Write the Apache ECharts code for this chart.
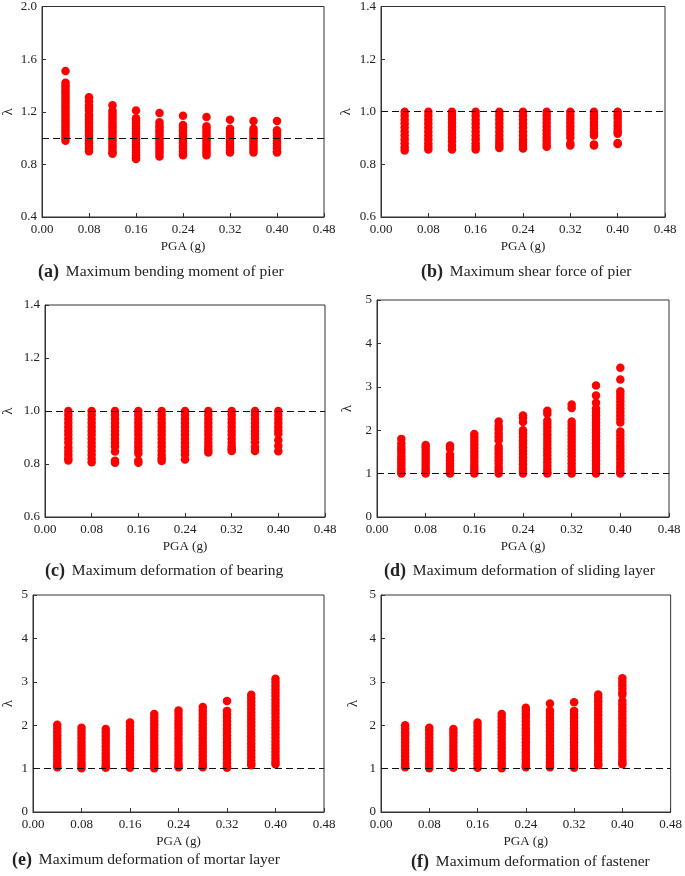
<!DOCTYPE html>
<html>
<head>
<meta charset="utf-8">
<script src="https://cdn.jsdelivr.net/npm/echarts@6/dist/echarts.min.js"></script>
<style>
html,body{margin:0;padding:0;background:#fff;}
#chart{width:685px;height:876px;}
</style>
</head>
<body>
<div id="chart"></div>
<script>
// PGA levels (g)
const pga = [0.04, 0.08, 0.12, 0.16, 0.20, 0.24, 0.28, 0.32, 0.36, 0.40];

// x tick labels
const xTickLabels = ['0.00', '0.08', '0.16', '0.24', '0.32', '0.40', '0.48'];

// (a) Maximum bending moment of pier: lambda values per PGA level
const lambdaBendingPier = [
  [1.51, 1.42, 1.40, 1.38, 1.36, 1.34, 1.32, 1.30, 1.28, 1.26, 1.24, 1.22, 1.20, 1.18, 1.16, 1.14, 1.12, 1.10, 1.08, 1.06, 1.04, 1.02, 1.00, 0.98],
  [1.31, 1.28, 1.25, 1.23, 1.21, 1.18, 1.16, 1.14, 1.12, 1.10, 1.08, 1.06, 1.04, 1.02, 1.00, 0.98, 0.96, 0.94, 0.92, 0.90],
  [1.25, 1.21, 1.19, 1.17, 1.15, 1.13, 1.11, 1.09, 1.07, 1.05, 1.03, 1.01, 0.99, 0.97, 0.95, 0.93, 0.91, 0.89, 0.88],
  [1.21, 1.15, 1.13, 1.11, 1.09, 1.07, 1.05, 1.03, 1.01, 0.99, 0.97, 0.95, 0.93, 0.91, 0.89, 0.87, 0.85, 0.84],
  [1.19, 1.12, 1.10, 1.08, 1.06, 1.04, 1.02, 1.00, 0.98, 0.96, 0.94, 0.92, 0.90, 0.88, 0.86],
  [1.17, 1.10, 1.08, 1.06, 1.04, 1.02, 1.00, 0.98, 0.96, 0.94, 0.92, 0.90, 0.88, 0.87],
  [1.16, 1.09, 1.07, 1.05, 1.03, 1.01, 0.99, 0.97, 0.95, 0.93, 0.91, 0.89, 0.87],
  [1.14, 1.07, 1.05, 1.03, 1.01, 0.99, 0.97, 0.95, 0.93, 0.91, 0.89],
  [1.13, 1.07, 1.05, 1.03, 1.01, 0.99, 0.97, 0.95, 0.93, 0.91, 0.89],
  [1.13, 1.06, 1.04, 1.02, 1.00, 0.98, 0.96, 0.94, 0.92, 0.90, 0.89]
];

// (b) Maximum shear force of pier
const lambdaShearPier = [
  [1.00, 0.985, 0.97, 0.955, 0.94, 0.925, 0.91, 0.895, 0.88, 0.865, 0.853],
  [1.00, 0.985, 0.97, 0.955, 0.94, 0.925, 0.91, 0.895, 0.88, 0.868, 0.857],
  [1.00, 0.986, 0.972, 0.958, 0.944, 0.93, 0.916, 0.902, 0.888, 0.872, 0.857],
  [1.00, 0.985, 0.97, 0.955, 0.94, 0.925, 0.91, 0.895, 0.88, 0.868, 0.857],
  [1.00, 0.985, 0.97, 0.955, 0.94, 0.925, 0.91, 0.895, 0.882, 0.872, 0.862],
  [1.00, 0.985, 0.97, 0.955, 0.94, 0.925, 0.91, 0.895, 0.882, 0.872, 0.86],
  [1.00, 0.986, 0.972, 0.958, 0.944, 0.93, 0.916, 0.902, 0.89, 0.877, 0.867],
  [1.00, 0.986, 0.972, 0.958, 0.944, 0.93, 0.916, 0.902, 0.879, 0.872],
  [1.00, 0.987, 0.974, 0.961, 0.948, 0.935, 0.922, 0.91, 0.876, 0.872],
  [1.00, 0.987, 0.974, 0.961, 0.948, 0.935, 0.925, 0.916, 0.881, 0.877]
];

// (c) Maximum deformation of bearing
const lambdaBearing = [
  [1.00, 0.985, 0.97, 0.955, 0.94, 0.925, 0.91, 0.895, 0.88, 0.862, 0.848, 0.835, 0.822, 0.813],
  [1.00, 0.985, 0.97, 0.955, 0.94, 0.925, 0.91, 0.895, 0.88, 0.865, 0.85, 0.835, 0.82, 0.807],
  [1.00, 0.985, 0.97, 0.955, 0.94, 0.925, 0.91, 0.895, 0.88, 0.866, 0.847, 0.812, 0.805],
  [1.00, 0.985, 0.97, 0.955, 0.94, 0.925, 0.91, 0.895, 0.88, 0.866, 0.852, 0.84, 0.812, 0.805],
  [1.00, 0.985, 0.97, 0.955, 0.94, 0.925, 0.91, 0.895, 0.88, 0.865, 0.85, 0.835, 0.822, 0.811],
  [1.00, 0.985, 0.97, 0.955, 0.94, 0.925, 0.91, 0.895, 0.88, 0.865, 0.85, 0.836, 0.817],
  [1.00, 0.985, 0.97, 0.955, 0.94, 0.925, 0.91, 0.895, 0.88, 0.866, 0.854, 0.843],
  [1.00, 0.985, 0.97, 0.955, 0.94, 0.925, 0.91, 0.895, 0.88, 0.866, 0.856, 0.849],
  [1.00, 0.985, 0.97, 0.955, 0.94, 0.925, 0.912, 0.898, 0.882, 0.864, 0.849],
  [1.00, 0.985, 0.97, 0.955, 0.94, 0.926, 0.914, 0.89, 0.868, 0.848]
];

// (d) Maximum deformation of sliding layer
const lambdaSliding = [
  [1.80, 1.70, 1.62, 1.55, 1.48, 1.40, 1.33, 1.26, 1.19, 1.12, 1.06, 1.00],
  [1.66, 1.60, 1.53, 1.46, 1.39, 1.32, 1.25, 1.18, 1.11, 1.05, 1.00],
  [1.65, 1.58, 1.44, 1.37, 1.30, 1.23, 1.16, 1.09, 1.03, 1.00],
  [1.91, 1.83, 1.75, 1.67, 1.59, 1.51, 1.43, 1.36, 1.28, 1.20, 1.13, 1.06, 1.00],
  [2.20, 2.10, 2.02, 1.93, 1.85, 1.77, 1.62, 1.55, 1.47, 1.39, 1.31, 1.23, 1.15, 1.08, 1.00],
  [2.34, 2.28, 2.19, 2.00, 1.93, 1.85, 1.77, 1.69, 1.61, 1.53, 1.45, 1.37, 1.29, 1.21, 1.13, 1.06, 1.00],
  [2.45, 2.38, 2.22, 2.14, 2.06, 1.98, 1.90, 1.82, 1.74, 1.66, 1.58, 1.50, 1.42, 1.34, 1.26, 1.18, 1.10, 1.03, 1.00],
  [2.59, 2.51, 2.20, 2.12, 2.04, 1.96, 1.88, 1.80, 1.72, 1.64, 1.56, 1.48, 1.40, 1.32, 1.24, 1.16, 1.08, 1.00],
  [3.03, 2.80, 2.63, 2.50, 2.42, 2.34, 2.26, 2.18, 2.10, 2.02, 1.94, 1.86, 1.78, 1.70, 1.62, 1.54, 1.46, 1.38, 1.30, 1.22, 1.14, 1.06, 1.00],
  [3.44, 3.17, 2.90, 2.82, 2.74, 2.66, 2.58, 2.50, 2.42, 2.34, 2.26, 2.18, 1.97, 1.89, 1.81, 1.73, 1.65, 1.57, 1.49, 1.41, 1.33, 1.25, 1.17, 1.09, 1.02, 1.00]
];

// (e) Maximum deformation of mortar layer
const lambdaMortar = [
  [2.01, 1.93, 1.85, 1.77, 1.69, 1.61, 1.53, 1.45, 1.37, 1.29, 1.21, 1.13, 1.06, 1.03],
  [1.94, 1.86, 1.78, 1.70, 1.62, 1.54, 1.46, 1.38, 1.30, 1.22, 1.14, 1.07, 1.01],
  [1.91, 1.83, 1.75, 1.67, 1.59, 1.51, 1.43, 1.35, 1.27, 1.19, 1.11, 1.05, 1.02],
  [2.06, 1.98, 1.90, 1.82, 1.74, 1.66, 1.58, 1.50, 1.42, 1.34, 1.26, 1.18, 1.10, 1.02],
  [2.26, 2.18, 2.10, 2.02, 1.94, 1.86, 1.78, 1.70, 1.62, 1.54, 1.46, 1.38, 1.30, 1.22, 1.14, 1.07, 1.01],
  [2.34, 2.26, 2.18, 2.10, 2.02, 1.94, 1.86, 1.78, 1.70, 1.62, 1.54, 1.46, 1.38, 1.30, 1.22, 1.14, 1.07, 1.03],
  [2.42, 2.34, 2.26, 2.18, 2.10, 2.02, 1.94, 1.86, 1.78, 1.70, 1.62, 1.54, 1.46, 1.38, 1.30, 1.22, 1.14, 1.07, 1.03],
  [2.56, 2.33, 2.25, 2.17, 2.09, 2.01, 1.93, 1.85, 1.77, 1.69, 1.61, 1.53, 1.45, 1.37, 1.29, 1.21, 1.13, 1.06, 1.02],
  [2.70, 2.62, 2.54, 2.46, 2.38, 2.30, 2.22, 2.14, 2.06, 1.98, 1.90, 1.82, 1.74, 1.66, 1.58, 1.50, 1.42, 1.34, 1.26, 1.18, 1.12, 1.08],
  [3.07, 2.99, 2.91, 2.83, 2.75, 2.67, 2.59, 2.51, 2.43, 2.35, 2.27, 2.19, 2.11, 2.03, 1.95, 1.87, 1.79, 1.71, 1.63, 1.55, 1.47, 1.39, 1.31, 1.23, 1.16, 1.10]
];

// (f) Maximum deformation of fastener
const lambdaFastener = [
  [2.00, 1.92, 1.84, 1.76, 1.68, 1.60, 1.52, 1.44, 1.36, 1.28, 1.20, 1.12, 1.06, 1.03],
  [1.94, 1.87, 1.79, 1.71, 1.63, 1.55, 1.47, 1.39, 1.31, 1.23, 1.15, 1.08, 1.01],
  [1.91, 1.84, 1.76, 1.68, 1.60, 1.52, 1.44, 1.36, 1.28, 1.20, 1.12, 1.06, 1.02],
  [2.06, 1.99, 1.91, 1.83, 1.75, 1.67, 1.59, 1.51, 1.43, 1.35, 1.27, 1.19, 1.11, 1.02],
  [2.26, 2.19, 2.11, 2.03, 1.95, 1.87, 1.79, 1.71, 1.63, 1.55, 1.47, 1.39, 1.31, 1.23, 1.15, 1.08, 1.01],
  [2.40, 2.33, 2.25, 2.17, 2.09, 2.01, 1.93, 1.85, 1.77, 1.69, 1.61, 1.53, 1.45, 1.37, 1.29, 1.21, 1.13, 1.07, 1.03],
  [2.50, 2.34, 2.26, 2.18, 2.10, 2.02, 1.94, 1.86, 1.78, 1.70, 1.62, 1.54, 1.46, 1.38, 1.30, 1.22, 1.14, 1.07, 1.03],
  [2.53, 2.33, 2.25, 2.17, 2.09, 2.01, 1.93, 1.85, 1.77, 1.69, 1.61, 1.53, 1.45, 1.37, 1.29, 1.21, 1.13, 1.06, 1.02],
  [2.71, 2.63, 2.55, 2.47, 2.39, 2.31, 2.23, 2.15, 2.07, 1.99, 1.91, 1.83, 1.75, 1.67, 1.59, 1.51, 1.43, 1.35, 1.27, 1.19, 1.12, 1.08],
  [3.08, 3.00, 2.92, 2.84, 2.76, 2.70, 2.56, 2.48, 2.40, 2.32, 2.24, 2.16, 2.08, 2.00, 1.92, 1.84, 1.76, 1.68, 1.60, 1.52, 1.44, 1.36, 1.28, 1.20, 1.14, 1.10]
];

// panel captions
const panelLetters = ['(a)', '(b)', '(c)', '(d)', '(e)', '(f)'];
const panelTitles = [
  'Maximum bending moment of pier',
  'Maximum shear force of pier',
  'Maximum deformation of bearing',
  'Maximum deformation of sliding layer',
  'Maximum deformation of mortar layer',
  'Maximum deformation of fastener'
];

// y-axis ranges per panel
const yMins = [0.4, 0.6, 0.6, 0, 0, 0];
const yMaxs = [2.0, 1.4, 1.4, 5, 5, 5];
const yIntervals = [0.4, 0.2, 0.2, 1, 1, 1];
const yDecimals = [1, 1, 1, 0, 0, 0];
const refLambda = 1;

const panelData = [lambdaBendingPier, lambdaShearPier, lambdaBearing, lambdaSliding, lambdaMortar, lambdaFastener];

// layout (pixels)
const grids = [
  {left: 40, top: 5, width: 284, height: 212},
  {left: 381, top: 5, width: 284, height: 212},
  {left: 44, top: 305, width: 281, height: 212},
  {left: 377, top: 300, width: 292, height: 217},
  {left: 31, top: 595, width: 293, height: 217},
  {left: 381, top: 595, width: 293, height: 217}
];
const yNameGaps = [26, 27, 29, 22, 17, 20];
const titlePos = [
  {left: 38, top: 262},
  {left: 421, top: 262},
  {left: 45, top: 561},
  {left: 384, top: 561},
  {left: 12, top: 850},
  {left: 411, top: 852}
];

const F = '"Liberation Serif", "Times New Roman", serif';
const ink = '#222';

const option = {
  animation: false,
  backgroundColor: '#fff',
  title: panelTitles.map((t, i) => ({
    text: '{b|' + panelLetters[i] + '} {n|' + t + '}',
    left: titlePos[i].left,
    top: titlePos[i].top,
    padding: 0,
    textStyle: {
      fontFamily: F,
      fontWeight: 'normal',
      fontSize: 15.5,
      color: ink,
      rich: {
        b: {fontFamily: F, fontWeight: 'bold', fontSize: 18, color: ink, lineHeight: 20, padding: [0, 3, 0, 0]},
        n: {fontFamily: F, fontWeight: 'normal', fontSize: 15.5, color: ink, lineHeight: 20}
      }
    }
  })),
  grid: grids.map(g => Object.assign({show: true, borderColor: '#333', borderWidth: 1, backgroundColor: 'transparent'}, g)),
  xAxis: grids.map((g, i) => ({
    gridIndex: i,
    type: 'value',
    min: 0,
    max: 0.48,
    interval: 0.08,
    name: 'PGA (g)',
    nameLocation: 'middle',
    nameGap: 23,
    nameTextStyle: {fontFamily: F, fontSize: 13, color: ink},
    axisLine: {show: true, onZero: false, lineStyle: {color: '#333', width: 1}},
    axisTick: {show: true, inside: true, length: 4, lineStyle: {color: '#333'}},
    axisLabel: {fontFamily: F, fontSize: 13, color: ink, margin: 6,
      formatter: v => xTickLabels[Math.round(v / 0.08)] || v.toFixed(2)},
    splitLine: {show: false}
  })),
  yAxis: grids.map((g, i) => ({
    gridIndex: i,
    type: 'value',
    min: yMins[i],
    max: yMaxs[i],
    interval: yIntervals[i],
    name: 'λ',
    nameLocation: 'middle',
    nameGap: yNameGaps[i],
    nameTextStyle: {fontFamily: F, fontSize: 15, color: ink},
    axisLine: {show: true, onZero: false, lineStyle: {color: '#333', width: 1}},
    axisTick: {show: true, inside: true, length: 4, lineStyle: {color: '#333'}},
    axisLabel: {fontFamily: F, fontSize: 13, color: ink, margin: 5,
      formatter: v => v.toFixed(yDecimals[i])},
    splitLine: {show: false}
  })),
  series: []
};

panelData.forEach((cols, i) => {
  const pts = [];
  cols.forEach((vals, c) => vals.forEach(v => pts.push([pga[c], v])));
  option.series.push({
    type: 'scatter',
    xAxisIndex: i,
    yAxisIndex: i,
    data: pts,
    symbol: 'circle',
    symbolSize: 8.5,
    itemStyle: {color: '#ff0000', opacity: 1},
    silent: true,
    z: 2
  });
  option.series.push({
    type: 'scatter',
    xAxisIndex: i,
    yAxisIndex: i,
    data: [],
    silent: true,
    z: 5,
    markLine: {
      silent: true,
      symbol: ['none', 'none'],
      label: {show: false},
      lineStyle: {color: '#111', width: 1.2, type: [7, 4]},
      data: [{yAxis: refLambda}]
    }
  });
});

const chart = echarts.init(document.getElementById('chart'), null, {renderer: 'canvas'});
chart.setOption(option);
</script>
</body>
</html>
